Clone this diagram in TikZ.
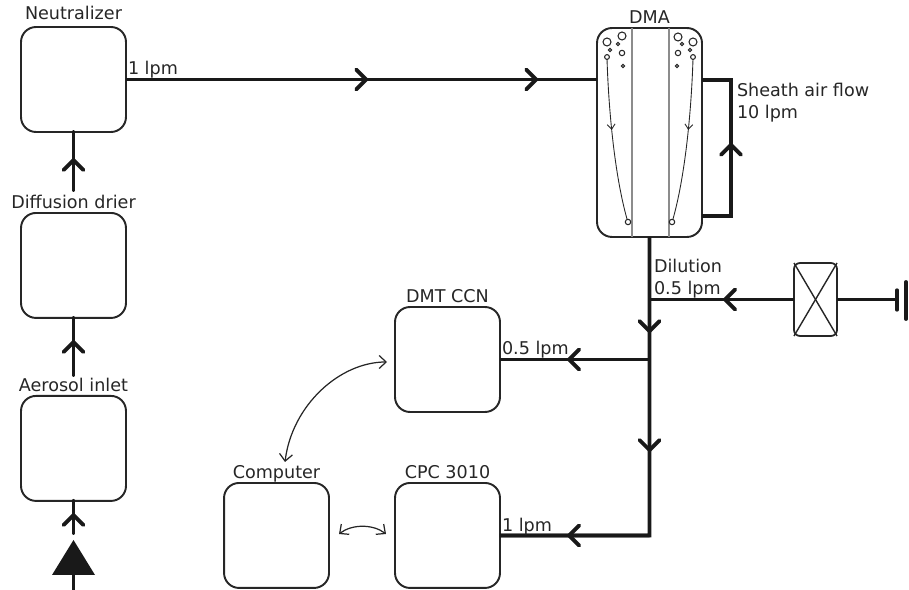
\documentclass[tikz,border=0pt]{standalone}
\usepackage{fontspec}
\setmainfont{DejaVu Sans}
\usepackage{xcolor}
\usetikzlibrary{arrows.meta, positioning, calc, decorations.markings}

\begin{document}
\begin{tikzpicture}[
    x=0.02cm, y=-0.02cm,
    font=\fontsize{10}{12}\selectfont,
    text=black!85,
    box/.style={draw=black!85, line width=1.1pt, rounded corners=0.3cm, minimum width=2.1cm, minimum height=2.1cm, outer sep=0pt},
    tag/.style={inner sep=0pt, outer sep=0pt, text height=7.5pt, text depth=0pt},
    flow/.style={draw=black!90, line width=2.2pt},
    thinflow/.style={draw=black!90, line width=1.9pt},
    barb/.style={postaction={decorate, decoration={markings, mark=at position #1 with {\arrow[line width=2.2pt]{Straight Barb[length=2mm, width=4mm, round]}}}}},
    link/.style={draw=black!85, line width=0.7pt, {Straight Barb[length=1.4mm, width=2.6mm]}-{Straight Barb[length=1.4mm, width=2.6mm]}},
    bubble/.style={draw=black!85, line width=0.6pt, fill=white},
    wall/.style={draw=black!45, line width=1pt},
    drift/.style={line width=0.5pt, draw=black!85, postaction={decorate, decoration={markings, mark=at position 0.44 with {\arrow{Straight Barb[length=1mm, width=1.6mm]}}}}}
]
\useasboundingbox (0,0) rectangle (909,590);

% left column
\node[box] at (73.5,79.5) (neutralizer) {};
\node[box, below=1.62cm of neutralizer] (drier) {};
\node[box, below=1.56cm of drier] (inlet) {};
\node[tag, above=4.5pt of neutralizer] (neutralizertag) {Neutralizer};
\node[tag, above=2.3pt of drier] (driertag) {Diffusion drier};
\node[tag, above=2.3pt of inlet] (inlettag) {Aerosol inlet};

% instruments
\node[box] at (447.5,359.5) (ccn) {};
\node[box, below=1.42cm of ccn] (cpc) {};
\node[box, left=1.32cm of cpc] (computer) {};
\node[tag, above=2.3pt of ccn] (ccntag) {DMT CCN};
\node[tag, above=2.3pt of cpc] (cpctag) {CPC 3010};
\node[tag, above=2.3pt of computer] (computertag) {Computer};

% DMA column
\node[box, minimum height=4.18cm] at (649.5,132.5) (dma) {};
\node[tag, above=2.3pt of dma] (dmatag) {DMA};
\draw[wall] (632,28) -- (632,237);
\draw[wall] (669,28) -- (669,237);
\draw[drift] (607,59) .. controls (609,120) and (616,180) .. (627,219);
\draw[drift] (693,59) .. controls (691,120) and (684,180) .. (673,219);
\foreach \cx/\cy/\cr in {607/42/4, 622/36/4, 618/44/1.7, 610/50/1.7, 607/57/2.4, 622/53/2.7, 623/66/1.7, 628/222/2.7} {
  \draw[bubble] (\cx,\cy) circle[radius=\cr];
}
\foreach \cx/\cy/\cr in {678/37/4, 693/42/4, 682/44/1.7, 690/50/1.7, 693/57/2.4, 678/53/2.7, 677/66/1.7, 672/222/2.7} {
  \draw[bubble] (\cx,\cy) circle[radius=\cr];
}

% valve and stop
\node[box, minimum width=0.86cm, minimum height=1.46cm, rounded corners=0.12cm, line width=1pt] at (815.5,299.5) (valve) {};
\draw[line width=0.8pt, draw=black!85] (valve.north west) -- (valve.south east);
\draw[line width=0.8pt, draw=black!85] (valve.north east) -- (valve.south west);
\coordinate (stop) at (897,299.5);
\draw[thinflow, line cap=round] (897,290) -- (897,310);
\draw[flow, line cap=round] (906,282) -- (906,319);

% cone under the inlet
\coordinate (conebase) at (73.5,575);
\coordinate (inletend) at (73.5,533);
\coordinate (foot) at (73.5,590);
\coordinate (drierout) at (73.5,190);
\coordinate (inletout) at (73.5,375);
\fill[black!90] (73.5,540) -- (95,575) -- (52,575) -- cycle;

% junctions on the main line
\coordinate (dilutionjoin) at (649.5,299.5);
\coordinate (ccnjoin) at (649.5,359.5);
\coordinate (cpcjoin) at (649.5,535.5);
\coordinate (sheathtop) at (731,80);
\coordinate (sheathbottom) at (731,216);

% flows
\draw[flow, barb=0.514, barb=0.875] (neutralizer.east) -- (dma.west |- neutralizer.east);
\draw[flow, barb=0.55, line cap=round] (drierout) -- (neutralizer.south);
\draw[flow, barb=0.61, line cap=round] (inletout) -- (drier.south);
\draw[flow] (foot) -- (conebase);
\draw[flow, barb=0.62, line cap=round] (inletend) -- (inlet.south);
\draw[flow, barb=0.526] (dma.east |- sheathbottom) -- (sheathbottom) -- (sheathtop) -- (dma.east |- sheathtop);
\draw[flow] (dma.south) -- (cpcjoin) -- (cpc.east);
\draw[flow, barb=0.784] (dma.south) -- (ccnjoin);
\draw[flow, barb=0.646] (dilutionjoin) -- (cpcjoin);
\draw[flow, barb=0.55] (ccnjoin) -- (ccn.east);
\draw[flow, barb=0.55] (cpcjoin) -- (cpc.east);
\draw[thinflow, barb=0.49] (valve.west) -- (dilutionjoin);
\draw[thinflow] (stop) -- (valve.east);

% computer links
\coordinate (ccnport) at (387,362);
\coordinate (computerport) at (285,462);
\coordinate (computerside) at (339,534);
\coordinate (cpcside) at (386,534);
\draw[link] (ccnport) .. controls (340,362) and (292,405) .. (computerport);
\draw[link] (computerside) .. controls (352,524) and (373,524) .. (cpcside);

% flow labels
\node[tag, anchor=south west] at (128,75) (flowtag) {1 lpm};
\node[tag, anchor=north west, align=left, text height=, text depth=] at (737,83) (sheathtag) {Sheath air flow\\[0.6pt]10 lpm};
\node[tag, anchor=south west, align=left, text height=, text depth=] at (654,298) (dilutiontag) {Dilution\\[0.6pt]0.5 lpm};
\node[tag, anchor=south west] at (502,355) (ccnflowtag) {0.5 lpm};
\node[tag, anchor=south west] at (502,532) (cpcflowtag) {1 lpm};
\end{tikzpicture}
\end{document}
